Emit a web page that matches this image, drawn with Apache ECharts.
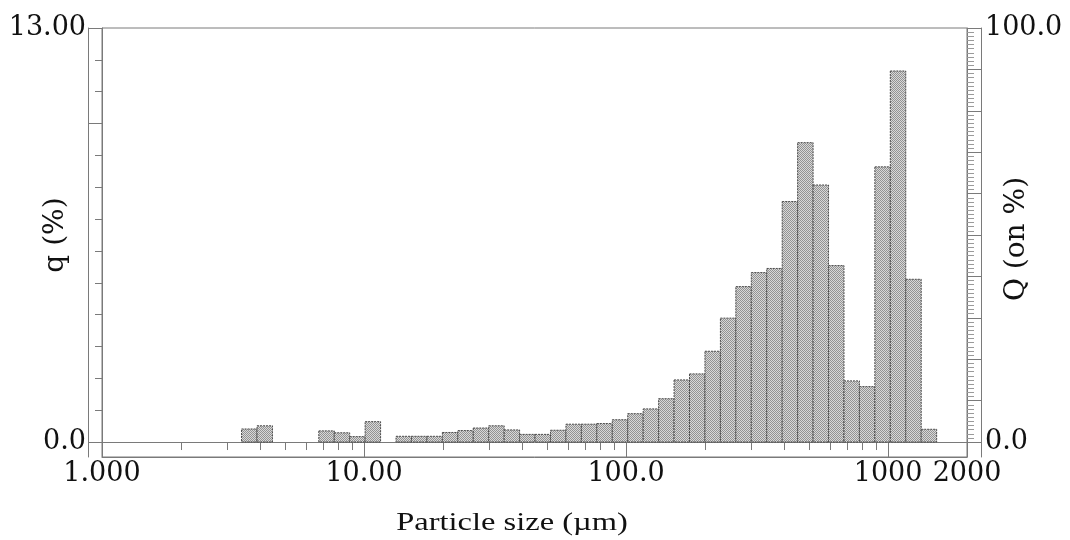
<!DOCTYPE html>
<html>
<head>
<meta charset="utf-8">
<title>Particle size distribution</title>
<script src="https://cdn.jsdelivr.net/npm/echarts@6/dist/echarts.min.js"></script>
<style>
html, body { margin: 0; padding: 0; background: #fff; }
#chart { width: 1070px; height: 540px; }
</style>
</head>
<body>
<div id="chart"></div>
<script>
// size class edges (um), one more than the number of bars
var binEdges = [3.409, 3.905, 4.472, 5.122, 5.867, 6.720, 7.697, 8.816, 10.097, 11.565,
	13.246, 15.172, 17.377, 19.904, 22.797, 26.111, 29.907, 34.255, 39.234, 44.938,
	51.471, 58.953, 67.523, 77.339, 88.583, 101.46, 116.21, 133.10, 152.45, 174.62,
	200.00, 229.08, 262.38, 300.52, 344.21, 394.24, 451.56, 517.20, 592.39, 678.50,
	777.14, 890.12, 1019.5, 1167.7, 1337.5, 1531.9];

// q (%) for each class
var qValues = [0.41, 0.51, 0, 0, 0, 0.35, 0.29, 0.17, 0.64, 0,
	0.18, 0.18, 0.18, 0.30, 0.36, 0.44, 0.51, 0.38, 0.24, 0.24,
	0.37, 0.56, 0.56, 0.58, 0.70, 0.89, 1.04, 1.36, 1.95, 2.14,
	2.85, 3.89, 4.88, 5.32, 5.45, 7.55, 9.40, 8.07, 5.54, 1.92,
	1.74, 8.64, 11.65, 5.11, 0.40];

// x axis ticks
var xTickValues = [1, 10, 100, 1000, 2000];
var xTickLabels = ['1.000', '10.00', '100.0', '1000', '2000'];
var xMajorTicks = [10, 100, 1000];
var xMinorTicks = [2, 3, 4, 5, 6, 7, 8, 9,
	20, 30, 40, 50, 60, 70, 80, 90,
	200, 300, 400, 500, 600, 700, 800, 900];

// left axis q (%)
var qMin = -0.47;
var qMax = 13;
var qLabelValues = [0, 13];
var qLabels = ['0.0', '13.00'];
var qLongTicks = [0, 10, 13];
var qShortTicks = [1, 2, 3, 4, 5, 6, 7, 8, 9, 10, 11, 12];

// right axis Q (on %)
var cumMin = -3.615;
var cumMax = 100;
var cumLabelValues = [0, 100];
var cumLabels = ['0.0', '100.0'];
var cumLongTicks = [0, 10, 20, 30, 40, 50, 60, 70, 80, 90, 100];
var cumShortTicks = [];
for (var t = 1; t < 100; t++) {
	if (t % 10 != 0) cumShortTicks.push(t);
}

var lineColor = '#7a7a7a';
var textColor = '#111';
var numFont = 'DejaVu Serif';

// dotted grey fill like the printed bars
function hatchCanvas() {
	var c = document.createElement('canvas');
	c.width = 2;
	c.height = 2;
	var ctx = c.getContext('2d');
	ctx.fillStyle = '#d8d8d8';
	ctx.fillRect(0, 0, 2, 2);
	ctx.fillStyle = '#939393';
	ctx.fillRect(0, 0, 1, 1);
	ctx.fillRect(1, 1, 1, 1);
	return c;
}
var hatch = { image: hatchCanvas(), repeat: 'repeat' };

var barData = [];
for (var i = 0; i < qValues.length; i++) {
	if (qValues[i] > 0) {
		barData.push([binEdges[i], binEdges[i + 1], qValues[i]]);
	}
}

function renderBar(params, api) {
	var p0 = api.coord([api.value(0), 0]);
	var p1 = api.coord([api.value(1), api.value(2)]);
	return {
		type: 'rect',
		shape: { x: p0[0], y: p1[1], width: p1[0] - p0[0], height: p0[1] - p1[1] },
		style: { fill: hatch, stroke: '#4a4a4a', lineWidth: 1, lineDash: [2, 1] }
	};
}

function pick(values, labels) {
	return function (v) {
		for (var k = 0; k < values.length; k++) {
			if (Math.abs(values[k] - v) < 1e-6 * Math.max(1, Math.abs(v))) return labels[k];
		}
		return '';
	};
}

var lineStyle = { color: lineColor, width: 1 };
var labelStyle = { color: textColor, fontFamily: numFont, fontSize: 27 };

var chart = echarts.init(document.getElementById('chart'));
var option = {
	backgroundColor: '#fff',
	animation: false,
	grid: {
		left: 102, right: 103, top: 28, bottom: 83,
		show: true, borderColor: lineColor, borderWidth: 1, backgroundColor: 'transparent'
	},
	xAxis: [{
		// baseline at q = 0 with the small ticks hanging down
		type: 'log', logBase: 10, min: 1, max: 2000, position: 'bottom',
		axisLine: { show: true, onZero: true, onZeroAxisIndex: 0, lineStyle: lineStyle },
		axisTick: { show: true, inside: false, length: 8, customValues: xMinorTicks, lineStyle: lineStyle },
		axisLabel: { show: false },
		splitLine: { show: false }
	}, {
		type: 'log', logBase: 10, min: 1, max: 2000, position: 'bottom',
		axisLine: { show: true, onZero: false, lineStyle: lineStyle },
		axisTick: { show: true, inside: true, length: 15, customValues: xMajorTicks, lineStyle: lineStyle },
		axisLabel: Object.assign({
			customValues: xTickValues,
			formatter: pick(xTickValues, xTickLabels),
			margin: 3,
			showMinLabel: true,
			showMaxLabel: true
		}, labelStyle),
		splitLine: { show: false }
	}],
	yAxis: [{
		type: 'value', min: qMin, max: qMax, position: 'left', offset: 14,
		axisLine: { show: true, onZero: false, lineStyle: lineStyle },
		axisTick: { show: true, inside: true, length: 14, customValues: qLongTicks, lineStyle: lineStyle },
		axisLabel: Object.assign({
			customValues: qLabelValues,
			formatter: pick(qLabelValues, qLabels),
			margin: 2
		}, labelStyle),
		splitLine: { show: false }
	}, {
		type: 'value', min: qMin, max: qMax, position: 'left', offset: 0,
		axisLine: { show: true, onZero: false, lineStyle: lineStyle },
		axisTick: { show: true, inside: false, length: 7, customValues: qShortTicks, lineStyle: lineStyle },
		axisLabel: { show: false },
		splitLine: { show: false }
	}, {
		type: 'value', min: cumMin, max: cumMax, position: 'right', offset: 14,
		axisLine: { show: true, onZero: false, lineStyle: lineStyle },
		axisTick: { show: true, inside: true, length: 14, customValues: cumLongTicks, lineStyle: lineStyle },
		axisLabel: Object.assign({
			customValues: cumLabelValues,
			formatter: pick(cumLabelValues, cumLabels),
			margin: 4
		}, labelStyle),
		splitLine: { show: false }
	}, {
		type: 'value', min: cumMin, max: cumMax, position: 'right', offset: 0,
		axisLine: { show: true, onZero: false, lineStyle: lineStyle },
		axisTick: { show: true, inside: false, length: 7, customValues: cumShortTicks, lineStyle: { color: '#9a9a9a', width: 1 } },
		axisLabel: { show: false },
		splitLine: { show: false }
	}],
	graphic: [{
		type: 'text', x: 56, y: 235, rotation: Math.PI / 2,
		style: { text: 'q (%)', font: '28px "DejaVu Serif"', fill: textColor, align: 'center', verticalAlign: 'middle' }
	}, {
		type: 'text', x: 1017, y: 239, rotation: Math.PI / 2,
		style: { text: 'Q (on %)', font: '28px "DejaVu Serif"', fill: textColor, align: 'center', verticalAlign: 'middle' }
	}, {
		type: 'text', x: 512, y: 523, scaleX: 1.3,
		style: { text: 'Particle size (µm)', font: '25px "Liberation Serif"', fill: textColor, align: 'center', verticalAlign: 'middle' }
	}],
	series: [{
		type: 'custom',
		xAxisIndex: 0,
		yAxisIndex: 0,
		renderItem: renderBar,
		encode: { x: [0, 1], y: 2 },
		data: barData,
		z: 3
	}]
};
chart.setOption(option);
</script>
</body>
</html>
